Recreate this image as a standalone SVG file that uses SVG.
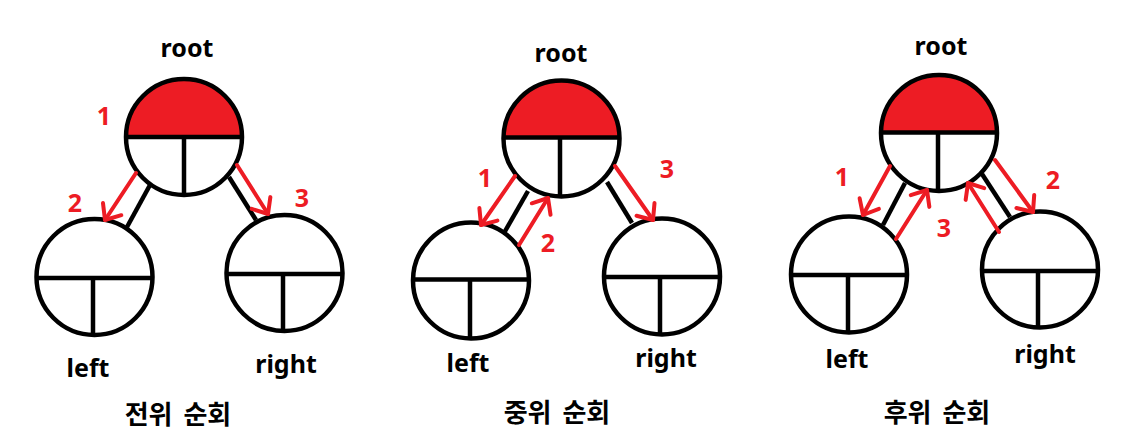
<svg xmlns="http://www.w3.org/2000/svg" width="1136" height="439" viewBox="0 0 1136 439">
<style>
.c{fill:none;stroke:#000;stroke-width:4.5}
.l{stroke:#000;stroke-width:4.5;fill:none}
.h{fill:#ED1C24;stroke:none}
.e{stroke:#000;stroke-width:4.5}
.a{stroke:#ED1C24;stroke-width:4;fill:none;stroke-linecap:round}
.t{font-family:"Noto Sans","Noto Sans CJK KR",sans-serif;font-weight:bold;font-size:25px;fill:#000;text-anchor:middle}
.n{font-family:"Noto Sans",sans-serif;font-weight:bold;font-size:25px;fill:#ED1C24;text-anchor:middle}
.k{font-family:"Noto Sans CJK KR",sans-serif;font-weight:bold;font-size:26px;word-spacing:5px;fill:#000;text-anchor:middle}
</style>
<defs>
<marker id="ah" markerUnits="userSpaceOnUse" markerWidth="40" markerHeight="40" viewBox="-20 -20 40 40" refX="0" refY="0" orient="auto" overflow="visible">
<path d="M-13,-11 L0,0 L-13,11" fill="none" stroke="#ED1C24" stroke-width="4" stroke-linecap="round" stroke-linejoin="round"/>
</marker>
</defs>
<rect width="1136" height="439" fill="#fff"/>

<!-- Diagram 1: preorder -->
<g id="d1-root">
<path class="h" d="M126,137 A58,58 0 0 1 242,137 Z"/>
<circle class="c" cx="184" cy="137" r="58"/>
<line class="l" x1="126" y1="137" x2="242" y2="137"/>
<line class="l" x1="184" y1="137" x2="184" y2="195"/>
</g>
<g id="d1-left">
<circle class="c" cx="94.5" cy="277" r="58"/>
<line class="l" x1="36.5" y1="278" x2="152.5" y2="278"/>
<line class="l" x1="93" y1="278" x2="93" y2="335"/>
</g>
<g id="d1-right">
<circle class="c" cx="284.5" cy="273" r="58"/>
<line class="l" x1="226.5" y1="274" x2="342.5" y2="274"/>
<line class="l" x1="283" y1="274" x2="283" y2="331"/>
</g>
<g id="d1-connectors">
<line class="e" x1="150" y1="185" x2="127" y2="227"/>
<line class="e" x1="229" y1="177" x2="256" y2="220"/>
<line class="a" x1="136" y1="173" x2="105" y2="220" marker-end="url(#ah)"/>
<line class="a" x1="237" y1="165" x2="268" y2="214" marker-end="url(#ah)"/>
</g>
<g id="d1-labels">
<text class="t" x="187" y="57">root</text>
<text class="t" x="88" y="377">left</text>
<text class="t" x="286" y="373">right</text>
<text class="n" x="104" y="125">1</text>
<text class="n" x="75" y="212">2</text>
<text class="n" x="302" y="207">3</text>
<text class="k" x="178" y="424">전위 순회</text>
</g>

<!-- Diagram 2: inorder -->
<g id="d2-root">
<path class="h" d="M503.5,138 A58,58 0 0 1 619.5,138 Z"/>
<circle class="c" cx="561.5" cy="138.5" r="58"/>
<line class="l" x1="503.5" y1="137.5" x2="619.5" y2="137.5"/>
<line class="l" x1="560" y1="137.5" x2="560" y2="196"/>
</g>
<g id="d2-left">
<circle class="c" cx="471" cy="280.5" r="58"/>
<line class="l" x1="413" y1="279.5" x2="529" y2="279.5"/>
<line class="l" x1="470" y1="279.5" x2="470" y2="338"/>
</g>
<g id="d2-right">
<circle class="c" cx="662" cy="276.5" r="58"/>
<line class="l" x1="604" y1="277" x2="720" y2="277"/>
<line class="l" x1="660" y1="277" x2="660" y2="334"/>
</g>
<g id="d2-connectors">
<line class="e" x1="528" y1="191" x2="504" y2="233"/>
<line class="e" x1="607" y1="182" x2="632" y2="223"/>
<line class="a" x1="515" y1="176" x2="481" y2="225" marker-end="url(#ah)"/>
<line class="a" x1="519" y1="245" x2="548" y2="198" marker-end="url(#ah)"/>
<line class="a" x1="615" y1="166" x2="653" y2="220" marker-end="url(#ah)"/>
</g>
<g id="d2-labels">
<text class="t" x="561" y="62">root</text>
<text class="t" x="468" y="372">left</text>
<text class="t" x="666" y="367">right</text>
<text class="n" x="485" y="187">1</text>
<text class="n" x="548" y="252">2</text>
<text class="n" x="667" y="178">3</text>
<text class="k" x="557" y="422">중위 순회</text>
</g>

<!-- Diagram 3: postorder -->
<g id="d3-root">
<path class="h" d="M881,132.5 A58,58 0 0 1 997,132.5 Z"/>
<circle class="c" cx="939" cy="133" r="58"/>
<line class="l" x1="881" y1="132.5" x2="997" y2="132.5"/>
<line class="l" x1="938" y1="132.5" x2="938" y2="191"/>
</g>
<g id="d3-left">
<circle class="c" cx="849" cy="274.5" r="58"/>
<line class="l" x1="791" y1="275" x2="907" y2="275"/>
<line class="l" x1="848" y1="275" x2="848" y2="333"/>
</g>
<g id="d3-right">
<circle class="c" cx="1040" cy="269.5" r="58"/>
<line class="l" x1="982" y1="271" x2="1098" y2="271"/>
<line class="l" x1="1038" y1="271" x2="1038" y2="327"/>
</g>
<g id="d3-connectors">
<line class="e" x1="905" y1="183" x2="883" y2="225"/>
<line class="e" x1="982" y1="174" x2="1010" y2="217"/>
<line class="a" x1="890" y1="166" x2="863" y2="215" marker-end="url(#ah)"/>
<line class="a" x1="896" y1="239" x2="927" y2="190" marker-end="url(#ah)"/>
<line class="a" x1="999" y1="232" x2="968" y2="183" marker-end="url(#ah)"/>
<line class="a" x1="995" y1="160" x2="1033" y2="212" marker-end="url(#ah)"/>
</g>
<g id="d3-labels">
<text class="t" x="941" y="55">root</text>
<text class="t" x="847" y="368">left</text>
<text class="t" x="1045" y="363">right</text>
<text class="n" x="842" y="186">1</text>
<text class="n" x="1053" y="189">2</text>
<text class="n" x="944" y="237">3</text>
<text class="k" x="937" y="422">후위 순회</text>
</g>
</svg>
